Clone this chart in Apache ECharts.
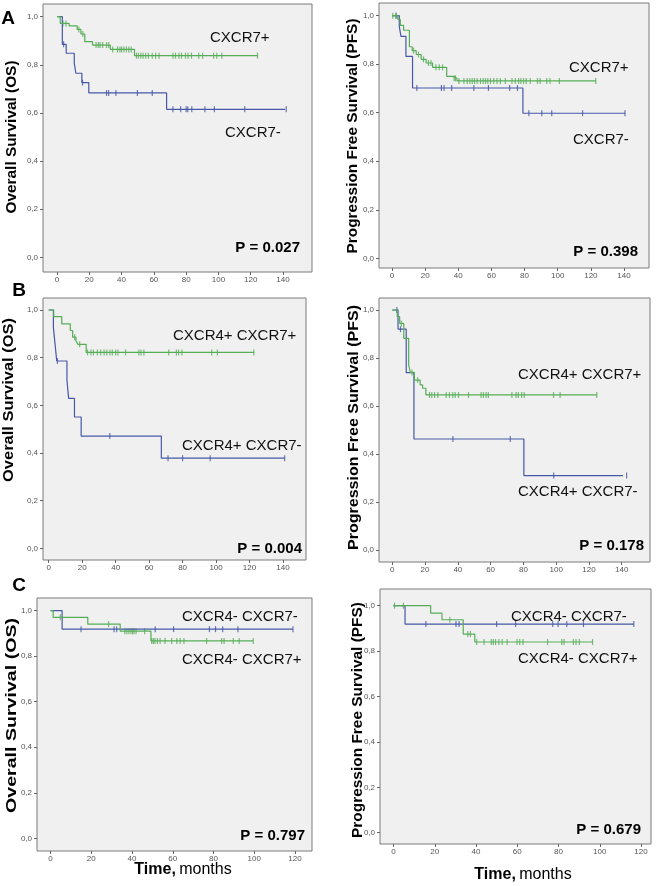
<!DOCTYPE html>
<html>
<head>
<meta charset="utf-8">
<script src="https://cdn.jsdelivr.net/npm/echarts@6/dist/echarts.min.js"></script>
<style>
html,body{margin:0;padding:0;background:#fff;}
#main{width:656px;height:886px;}
</style>
</head>
<body>
<div id="main"></div>
<script>
// ---- A: CXCR7, overall survival ----
var aOsNegT = [0, 3.3, 5.7, 10.7, 11.7, 15.4, 19.7, 67.9];
var aOsNegS = [1, 0.885, 0.848, 0.806, 0.765, 0.726, 0.683, 0.615];
var aOsNegCens = [4.1, 15.8, 30.7, 32, 36.5, 49.8, 59, 71.8, 76.6, 80, 81, 83.5, 91.6, 97.5, 116.3, 142];
var aOsPosT = [0, 2, 7.5, 12.5, 14.8, 17.2, 22, 33, 48];
var aOsPosS = [1, 0.972, 0.962, 0.947, 0.928, 0.896, 0.882, 0.864, 0.838];
var aOsPosCens = [3.7, 5.5, 13.5, 16, 24.2, 25.6, 26.7, 28.3, 30.7, 32, 34.5, 37.5, 39, 40, 41.5, 43, 44.5, 46,
    49.2, 50.4, 51.9, 53.3, 54.9, 56.6, 59, 61.1, 63.2, 71.8, 73.4, 75.5, 77.1, 79.6, 81.2, 83.3, 87.8, 90.2, 97, 99, 102.1, 124.2];
// ---- A: CXCR7, progression free survival ----
var aPfsNegT = [0, 4.4, 5.4, 8.4, 12.4, 79];
var aPfsNegS = [1, 0.956, 0.915, 0.832, 0.702, 0.598];
var aPfsNegCens = [2.5, 15, 29.8, 31.4, 36, 49.4, 58.2, 71, 75.7, 82.6, 90.4, 96.4, 115, 140.6];
var aPfsPosT = [0, 3.5, 5, 7, 10.5, 12.2, 14.6, 17.6, 20.6, 24.5, 33, 36.5, 39.2];
var aPfsPosS = [1, 0.985, 0.96, 0.94, 0.872, 0.856, 0.84, 0.82, 0.805, 0.787, 0.75, 0.742, 0.731];
var aPfsPosCens = [0.5, 2.3, 13, 16, 19, 22, 23.5, 26.5, 28.5, 30.5, 37.5, 38.3, 40.4, 43.4, 45.4, 47, 48.4, 49.8,
    51.4, 53.4, 55, 56.4, 57.8, 59.4, 61.4, 63.4, 65.4, 68.4, 72.4, 74.4, 76.4, 77.8, 79.4, 81, 83.4, 87.8, 89.4, 93.4, 95.4, 101, 123];
// ---- B: CXCR4+, overall survival ----
var bOsNegT = [0, 2.8, 3.8, 4.8, 10.9, 11.9, 15.4, 19.4, 67.3];
var bOsNegS = [1, 0.927, 0.857, 0.786, 0.706, 0.629, 0.551, 0.471, 0.378];
var bOsNegCens = [5.2, 36.5, 71.3, 80, 96.5, 141];
var bOsPosT = [0, 3, 7.8, 12.9, 14.3, 16.3, 17.4, 22.4];
var bOsPosS = [1, 0.972, 0.942, 0.914, 0.886, 0.871, 0.856, 0.822];
var bOsPosCens = [15.5, 18.5, 23.2, 25.2, 26.7, 29.1, 31.1, 33.1, 34.7, 36.6, 38, 40, 41.4, 45.9, 53.9, 55.2, 56.9,
    71.7, 76.3, 77.6, 79.6, 97.4, 100.8, 122.6];
// ---- B: CXCR4+, progression free survival ----
var bPfsNegT = [0, 3.5, 8.5, 13.2, 80.3];
var bPfsNegS = [1, 0.92, 0.739, 0.4625, 0.31];
var bPfsNegCens = [2.8, 5, 37, 72, 98.5, 143];
var bPfsPosT = [0, 3, 4.5, 7, 10, 11, 13.5, 17, 18.5, 20.5];
var bPfsPosS = [1, 0.972, 0.944, 0.882, 0.77, 0.74, 0.708, 0.688, 0.674, 0.646];
var bPfsPosCens = [5.5, 12, 15.5, 22.7, 24.1, 25.8, 27.8, 32.9, 34.9, 36.9, 38.4, 40.4, 46.5, 54.2, 55.6, 57.2, 58.6,
    73, 75.5, 76.9, 78.9, 80.5, 98.4, 102.4, 124.8];
// ---- C: CXCR4-, overall survival ----
var cOsNegT = [0, 5.7];
var cOsNegS = [1, 0.919];
var cOsNegCens = [15, 31.2, 32.5, 51.4, 60.4, 78, 81, 84.5, 92, 119];
var cOsPosT = [0, 1.3, 18.3, 34.2, 49.3];
var cOsPosS = [1, 0.971, 0.941, 0.91, 0.867];
var cOsPosCens = [4.8, 28.5, 36.5, 37.5, 38.5, 39.5, 40.3, 41, 42, 46.2, 49.7, 50.5, 51.3, 52.5, 53.8, 56.2, 59.5,
    62, 63.6, 65.5, 76.6, 84, 85.2, 89.7, 92.6, 99.5];
// ---- C: CXCR4-, progression free survival ----
var cPfsNegT = [0, 5.6];
var cPfsNegS = [1, 0.919];
var cPfsNegCens = [15.7, 30.3, 31.8, 50, 59.2, 77.2, 79.8, 84, 92.1, 116.5];
var cPfsPosT = [0, 18, 23.5, 33.8, 39.4];
var cPfsPosS = [1, 0.967, 0.938, 0.875, 0.84];
var cPfsPosCens = [0.5, 4.8, 27.3, 36, 37.3, 40.3, 43.9, 47.4, 48.4, 49.5, 51.1, 52.7, 55.1, 59.9, 61.2, 62.8,
    74.7, 81.6, 82.7, 87.2, 88.5, 90.1, 96.5];

var GREEN = '#55ad56';
var BLUE = '#4658a6';
var FONT = '"Liberation Sans", Arial, sans-serif';
var W = 656, H = 886;

// 面板位置: 外框 [左,上,右,下], 数据区 x0..x1 (0..xMax), y1..y0 (1..0)
var panels = [
    {frame:[43,4,312,272], x0:57, x1:283, y1:16.7, y0:257.3, xMax:140,
     neg:[aOsNegT,aOsNegS,aOsNegCens], pos:[aOsPosT,aOsPosS,aOsPosCens]},
    {frame:[379,3,649,268], x0:392, x1:624, y1:15.7, y0:258.3, xMax:140,
     neg:[aPfsNegT,aPfsNegS,aPfsNegCens], pos:[aPfsPosT,aPfsPosS,aPfsPosCens]},
    {frame:[43,298,306,560], x0:48.7, x1:283, y1:310, y0:548.3, xMax:140,
     neg:[bOsNegT,bOsNegS,bOsNegCens], pos:[bOsPosT,bOsPosS,bOsPosCens]},
    {frame:[379,298,650,562], x0:392.3, x1:621.7, y1:310, y0:550, xMax:140,
     neg:[bPfsNegT,bPfsNegS,bPfsNegCens], pos:[bPfsPosT,bPfsPosS,bPfsPosCens]},
    {frame:[37,598,312,851], x0:50.5, x1:295, y1:610.7, y0:838.3, xMax:120,
     neg:[cOsNegT,cOsNegS,cOsNegCens], pos:[cOsPosT,cOsPosS,cOsPosCens]},
    {frame:[380,589,651,844], x0:393.5, x1:641, y1:605.7, y0:832.7, xMax:120,
     neg:[cPfsNegT,cPfsNegS,cPfsNegCens], pos:[cPfsPosT,cPfsPosS,cPfsPosCens]}
];

//阶梯函数取值
function survAt(T, S, t){
    var s = S[0];
    for (var i = 0; i < T.length; i++) {
        if (T[i] <= t) s = S[i];
    }
    return s;
}
function lineData(T, S, C){
    var d = [];
    for (var i = 0; i < T.length; i++) d.push([T[i], S[i]]);
    var last = Math.max.apply(null, C);
    if (last > T[T.length-1]) d.push([last, S[S.length-1]]);
    return d;
}
function censData(T, S, C){
    return C.map(function(t){ return [t, survAt(T, S, t)]; });
}

var grid = [], xAxis = [], yAxis = [], series = [];
panels.forEach(function(p, i){
    var f = p.frame;
    grid.push({left:f[0], top:f[1], width:f[2]-f[0], height:f[3]-f[1], show:true,
        backgroundColor:'#f0f0f0', borderColor:'#7a7a7a', borderWidth:1, outerBoundsMode:'none'});
    grid.push({left:p.x0, right:W-p.x1, top:p.y1, bottom:H-p.y0, show:false, outerBoundsMode:'none'});
    xAxis.push({
        gridIndex: grid.length-1, type:'value', min:0, max:p.xMax, interval:20,
        offset: f[3]-p.y0,
        axisLine:{show:false, onZero:false},
        axisTick:{show:true, length:3, lineStyle:{color:'#666', width:1}},
        axisLabel:{fontSize:8, color:'#555', margin:4, fontFamily:FONT},
        splitLine:{show:false}
    });
    yAxis.push({
        gridIndex: grid.length-1, type:'value', min:0, max:1, interval:0.2,
        offset: p.x0-f[0],
        axisLine:{show:false, onZero:false},
        axisTick:{show:true, length:3, lineStyle:{color:'#666', width:1}},
        axisLabel:{fontSize:8, color:'#555', margin:5, fontFamily:FONT,
            formatter:function(v){ return v.toFixed(1).replace('.', ','); }},
        splitLine:{show:false}
    });
    var ai = xAxis.length-1;
    [[p.neg, BLUE], [p.pos, GREEN]].forEach(function(g){
        var T = g[0][0], S = g[0][1], C = g[0][2];
        series.push({type:'line', xAxisIndex:ai, yAxisIndex:ai, step:'end', symbol:'none', clip:false,
            lineStyle:{color:g[1], width:1.2}, data:lineData(T, S, C)});
        series.push({type:'scatter', xAxisIndex:ai, yAxisIndex:ai, symbol:'rect', symbolSize:[1.2, 6], clip:false,
            itemStyle:{color:g[1]}, data:censData(T, S, C)});
    });
});

// 文字测量, 用于纵轴标题长度
var mctx = document.createElement('canvas').getContext('2d');
function textW(txt, font){ mctx.font = font; return mctx.measureText(txt).width; }

var yTitles = [
    {text:'Overall Survival (OS)', x:12, y:137, len:153},
    {text:'Progression Free Survival (PFS)', x:353, y:136, len:235},
    {text:'Overall Survival (OS)', x:9, y:400, len:164},
    {text:'Progression Free Survival (PFS)', x:354, y:427.5, len:245},
    {text:'Overall Survival (OS)', x:12, y:715.5, len:195},
    {text:'Progression Free Survival (PFS)', x:357.5, y:720, len:236}
];
var groupLabels = [
    ['CXCR7+', 210, 37.5], ['CXCR7-', 225, 132.5],
    ['CXCR7+', 569, 68], ['CXCR7-', 573, 140],
    ['CXCR4+ CXCR7+', 173, 336], ['CXCR4+ CXCR7-', 182, 446],
    ['CXCR4+ CXCR7+', 518, 375], ['CXCR4+ CXCR7-', 518, 492],
    ['CXCR4- CXCR7-', 182, 617], ['CXCR4- CXCR7+', 182, 660],
    ['CXCR4- CXCR7-', 511, 617], ['CXCR4- CXCR7+', 518, 659]
];
var pLabels = [
    ['P = 0.027', 300, 248], ['P = 0.398', 638, 252],
    ['P = 0.004', 302, 549], ['P = 0.178', 644, 546],
    ['P = 0.797', 305, 836], ['P = 0.679', 641, 830]
];
var letters = [['A', 8, 19], ['B', 19, 291], ['C', 19, 585.5]];

var graphic = [];
var titleFont = 'bold 15px ' + FONT;
yTitles.forEach(function(t){
    graphic.push({type:'text', x:t.x, y:t.y, rotation:Math.PI/2,
        scaleX: t.len / textW(t.text, titleFont),
        style:{text:t.text, font:titleFont, fill:'#000', align:'center', verticalAlign:'middle'}});
});
groupLabels.forEach(function(l){
    graphic.push({type:'text', x:l[1], y:l[2], z:10,
        style:{text:l[0], font:'15px ' + FONT, fill:'#111', align:'left', verticalAlign:'middle'}});
});
pLabels.forEach(function(l){
    graphic.push({type:'text', x:l[1], y:l[2], z:10,
        style:{text:l[0], font:'bold 15px ' + FONT, fill:'#000', align:'right', verticalAlign:'middle'}});
});
letters.forEach(function(l){
    graphic.push({type:'text', x:l[1], y:l[2],
        style:{text:l[0], font:'bold 19px ' + FONT, fill:'#000', align:'center', verticalAlign:'middle'}});
});
[[183, 870], [523, 875]].forEach(function(c){
    graphic.push({type:'text', x:c[0], y:c[1],
        style:{text:'{b|Time,} {n|months}', align:'center', verticalAlign:'middle', fill:'#000',
            rich:{b:{font:'bold 16px ' + FONT, fill:'#000'}, n:{font:'16px ' + FONT, fill:'#000'}}}});
});

var chart = echarts.init(document.getElementById('main'));
chart.setOption({
    animation:false,
    backgroundColor:'#fff',
    grid:grid,
    xAxis:xAxis,
    yAxis:yAxis,
    series:series,
    graphic:graphic
});
</script>
</body>
</html>
